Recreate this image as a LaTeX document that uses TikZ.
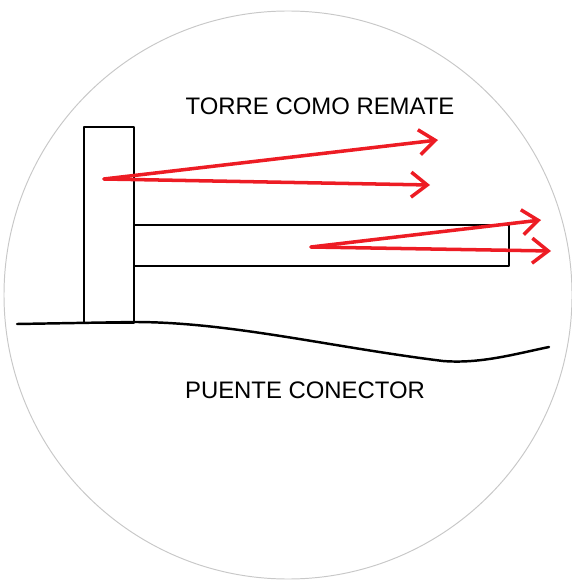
\documentclass[tikz,border=0pt]{standalone}
\usepackage{fontspec}
\setmainfont{Liberation Sans}
\usepackage{tikz}
\usetikzlibrary{arrows.meta,positioning}

\definecolor{flecha}{RGB}{237,28,36}
\definecolor{borde}{RGB}{200,200,200}

\begin{document}
\begin{tikzpicture}[x=0.02cm,y=-0.02cm,
                    line join=round,line cap=round]
  \tikzstyle{contorno}=[draw=borde,line width=0.55pt]
  \tikzstyle{trazo}=[draw=black,line width=1.4pt]
  \tikzstyle{vector}=[draw=flecha,line width=2pt,
                      -{Straight Barb[length=3.2mm,width=5mm,line width=2pt]}]
  \tikzstyle{rotulo}=[inner sep=0pt,anchor=base,font=\fontsize{13.6}{16}\selectfont]

  \useasboundingbox (0,0) rectangle (571,580);
  \draw[contorno] (288,295) circle [radius=284];

  % torre y puente
  \draw[trazo] (84,323) rectangle (134,127);
  \draw[trazo] (134,225) rectangle (509,266);

  % terreno
  \draw[trazo] (17,324) -- (134,322)
        .. controls (230,322) and (330,347) .. (443,361)
        .. controls (480,364) and (515,354) .. (549,347);

  % vectores
  \coordinate (o1) at (104,179);
  \coordinate (o2) at (311,247);
  \coordinate (a1) at (438,140);
  \coordinate (a2) at (430,185);
  \coordinate (a3) at (541,220);
  \coordinate (a4) at (551,251);
  \path (o1) edge[vector] (a1)
        (o1) edge[vector] (a2)
        (o2) edge[vector] (a3)
        (o2) edge[vector] (a4);

  \node[rotulo] (torre)  at (320,115) {TORRE COMO REMATE};
  \node[rotulo] (puente) at (305,398) {PUENTE CONECTOR};
\end{tikzpicture}
\end{document}
